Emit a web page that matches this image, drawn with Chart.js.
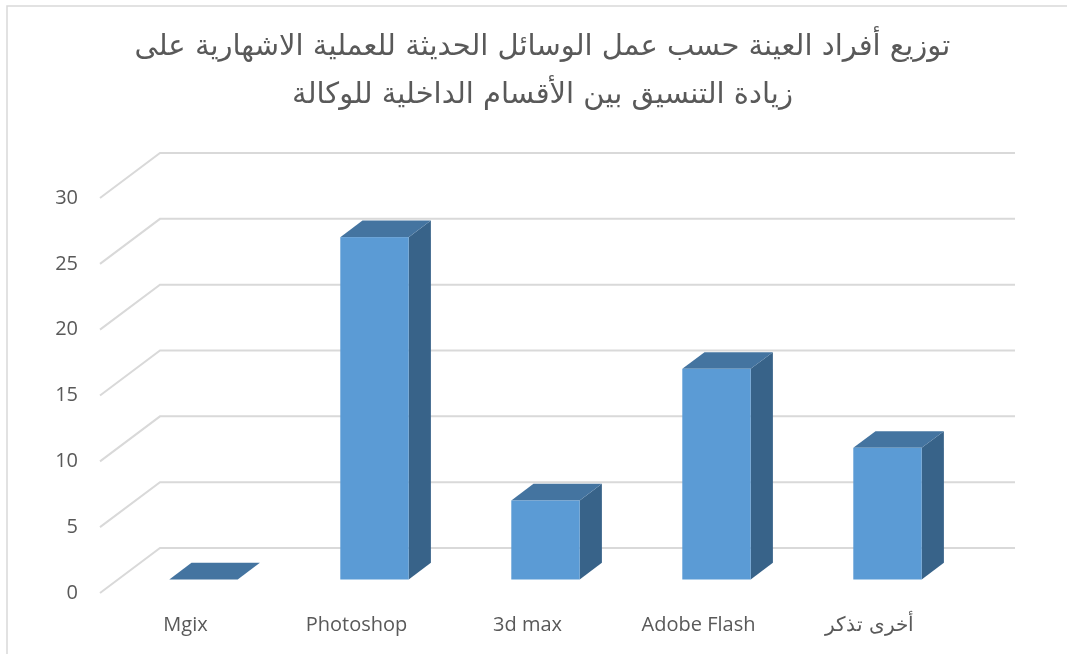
<!DOCTYPE html>
<html><head><meta charset="utf-8">
<script src="https://cdn.jsdelivr.net/npm/chart.js@4/dist/chart.umd.min.js"></script>
<style>html,body{margin:0;background:#fff}#wrap{width:1067px;height:654px}</style>
</head><body><div id="wrap"><canvas id="c" width="1067" height="654"></canvas></div>
<script>
const titleLines=['توزيع أفراد العينة حسب عمل الوسائل الحديثة للعملية الاشهارية على','زيادة التنسيق بين الأقسام الداخلية للوكالة'];
const categories=['Mgix','Photoshop','3d max','Adobe Flash','أخرى تذكر'];
const counts=[0,26,6,16,10];
const yTicks=[0,5,10,15,20,25,30];

// oblique depth of the whole plot (back wall offset from the front plane)
const depth={dx:60,dy:-45};
const barFront=0.3,barDepth=0.37;

const frame={id:'frame',
  afterLayout(c){c.titleBlock.left=0;c.titleBlock.right=1085;}, // title centred on the whole frame, not the plot
  beforeDraw(c){const ctx=c.ctx;ctx.save();ctx.strokeStyle='#d9d9d9';ctx.lineWidth=1.5;ctx.strokeRect(7,6,1100,700);ctx.restore();}};

const wall={id:'wall',beforeDatasetsDraw(c){
  const {ctx,chartArea:a,scales:{y}}=c;
  ctx.save();ctx.strokeStyle='#d9d9d9';ctx.lineWidth=2;
  y.ticks.forEach(t=>{
    const py=y.getPixelForValue(t.value);
    ctx.beginPath();ctx.moveTo(a.left,py);ctx.lineTo(a.left+depth.dx,py+depth.dy);ctx.lineTo(a.right+depth.dx,py+depth.dy);ctx.stroke();
  });
  ctx.restore();
}};

const bars3d={id:'bars3d',afterDatasetsDraw(c){
  const ctx=c.ctx;
  const ox=depth.dx*barFront,oy=depth.dy*barFront,dx=depth.dx*barDepth,dy=depth.dy*barDepth;
  c.getDatasetMeta(0).data.forEach(b=>{
    const x0=b.x-b.width/2+ox,x1=b.x+b.width/2+ox,top=b.y+oy,bot=b.base+oy;
    ctx.save();
    // side
    ctx.fillStyle='#386389';
    ctx.beginPath();ctx.moveTo(x1,top);ctx.lineTo(x1+dx,top+dy);ctx.lineTo(x1+dx,bot+dy);ctx.lineTo(x1,bot);ctx.closePath();ctx.fill();
    // top
    ctx.fillStyle='#4474a0';
    ctx.beginPath();ctx.moveTo(x0,top);ctx.lineTo(x1,top);ctx.lineTo(x1+dx,top+dy);ctx.lineTo(x0+dx,top+dy);ctx.closePath();ctx.fill();
    // front
    if(bot-top>0){ctx.fillStyle='#5b9bd5';ctx.fillRect(x0,top,x1-x0,bot-top);}
    ctx.restore();
  });
}};

const lab={family:'"Open Sans"',size:20};
new Chart(document.getElementById('c'),{
  type:'bar',
  data:{labels:categories,datasets:[{data:counts,backgroundColor:'rgba(0,0,0,0)',borderWidth:0,categoryPercentage:1,barPercentage:0.4}]},
  options:{
    responsive:false,animation:false,
    layout:{padding:{left:0,right:112,top:0,bottom:0}},
    plugins:{
      legend:{display:false},tooltip:{enabled:false},
      title:{display:true,text:titleLines,color:'#595959',font:{family:'"DejaVu Sans"',size:29,weight:'normal',lineHeight:1.655},padding:{top:23,bottom:79}}
    },
    scales:{
      x:{grid:{display:false,drawTicks:false},border:{display:false},ticks:{color:'#595959',font:lab,padding:20,maxRotation:0},afterFit:s=>{s.height=61;}},
      y:{min:0,max:30,grid:{display:false,drawTicks:false},border:{display:false},
        ticks:{color:'#595959',font:lab,padding:22},
        afterBuildTicks:s=>{s.ticks=yTicks.map(v=>({value:v}));},
        afterFit:s=>{s.width=100;}}
    }
  },
  plugins:[frame,wall,bars3d]
});
</script>
</body></html>
